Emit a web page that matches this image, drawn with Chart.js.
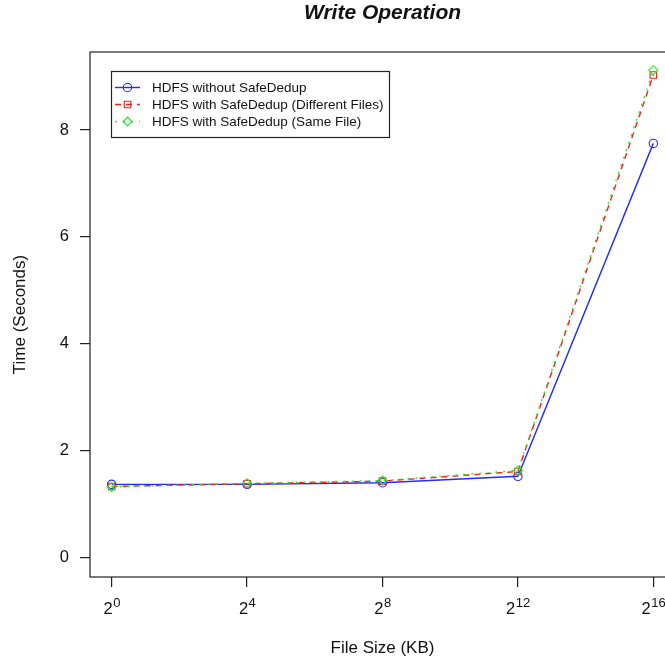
<!DOCTYPE html>
<html>
<head>
<meta charset="utf-8">
<title>Write Operation</title>
<script src="https://cdn.jsdelivr.net/npm/chart.js@4/dist/chart.umd.min.js"></script>
<style>
  html, body { margin: 0; padding: 0; background: #fff; overflow: hidden; }
  #wrap { width: 665px; height: 661px; overflow: hidden; }
  canvas { display: block; }
</style>
</head>
<body>
<div id="wrap"><canvas id="writeChart" width="690" height="661"></canvas></div>
<script>
// File sizes are plotted by their base-2 exponent (KB)
const exponents = [0, 4, 8, 12, 16];
const yTicks = [0, 2, 4, 6, 8];

const seriesNames = [
  'HDFS without SafeDedup',
  'HDFS with SafeDedup (Different Files)',
  'HDFS with SafeDedup (Same File)'
];

// Write time in seconds
const withoutSafeDedup = [1.37, 1.37, 1.40, 1.52, 7.75];
const differentFiles = [1.33, 1.38, 1.43, 1.61, 9.03];
const sameFile = [1.32, 1.39, 1.44, 1.63, 9.12];

const FONT = '"Liberation Sans", Arial, Helvetica, sans-serif';
const INK = '#111';

const toPoints = values => exponents.map((e, i) => ({ x: e, y: values[i] }));

const seriesStyles = [
  { color: '#1f2cff', dash: [], pointStyle: 'circle', radius: 4.2 },
  { color: '#ff1a1a', dash: [6, 5], pointStyle: 'rect', radius: 4.6 },
  { color: '#22ee22', dash: [2, 6], pointStyle: 'rectRot', radius: 4.5 }
];

const seriesValues = [withoutSafeDedup, differentFiles, sameFile];

const datasets = seriesValues.map((values, i) => {
  const s = seriesStyles[i];
  return {
    label: seriesNames[i],
    data: toPoints(values),
    borderColor: s.color,
    borderWidth: 1.4,
    borderDash: s.dash,
    pointStyle: s.pointStyle,
    pointRadius: s.radius,
    pointBorderWidth: 1.1,
    pointBorderColor: s.color,
    pointBackgroundColor: 'rgba(0,0,0,0)',
    tension: 0,
    fill: false,
    order: seriesValues.length - i
  };
});

// Box around the plot, superscript x labels, title and boxed legend
const framePlugin = {
  id: 'frame',
  afterDraw(chart) {
    const { ctx, chartArea: a } = chart;
    const xScale = chart.scales.x;
    ctx.save();

    ctx.strokeStyle = '#222';
    ctx.lineWidth = 1.2;
    ctx.setLineDash([]);
    ctx.strokeRect(a.left, a.top, a.right - a.left, a.bottom - a.top);

    // 2^n tick labels
    ctx.fillStyle = INK;
    ctx.textBaseline = 'alphabetic';
    ctx.textAlign = 'left';
    exponents.forEach(e => {
      const x = xScale.getPixelForValue(e);
      ctx.font = '16.5px ' + FONT;
      const wb = ctx.measureText('2').width;
      ctx.font = '13px ' + FONT;
      const ws = ctx.measureText(String(e)).width;
      const start = x - (wb + ws) / 2;
      ctx.font = '16.5px ' + FONT;
      ctx.fillText('2', start, 614);
      ctx.font = '13px ' + FONT;
      ctx.fillText(String(e), start + wb + 0.5, 607);
    });

    // title, centred over the plot
    ctx.font = 'italic bold 21px ' + FONT;
    ctx.textAlign = 'center';
    ctx.textBaseline = 'alphabetic';
    ctx.fillText('Write Operation', (a.left + a.right) / 2, 18.5);

    // legend
    const lx = 111.5, ly = 71.5, lw = 278, lh = 66;
    ctx.fillStyle = '#fff';
    ctx.fillRect(lx, ly, lw, lh);
    ctx.strokeStyle = '#222';
    ctx.lineWidth = 1.2;
    ctx.strokeRect(lx, ly, lw, lh);
    const rowY = [87.5, 104.5, 121.5];
    chart.data.datasets.forEach((ds, i) => {
      const y = rowY[i];
      const s = seriesStyles[i];
      ctx.strokeStyle = s.color;
      ctx.lineWidth = 1.4;
      ctx.setLineDash(s.dash);
      ctx.beginPath();
      ctx.moveTo(115, y);
      ctx.lineTo(140, y);
      ctx.stroke();
      ctx.setLineDash([]);
      ctx.lineWidth = 1.1;
      ctx.fillStyle = 'rgba(0,0,0,0)';
      Chart.helpers.drawPoint(ctx, {
        pointStyle: s.pointStyle, radius: s.radius, rotation: 0, borderWidth: 1.1
      }, 127.5, y);
      ctx.fillStyle = INK;
      ctx.font = '13.5px ' + FONT;
      ctx.textAlign = 'left';
      ctx.textBaseline = 'middle';
      ctx.fillText(seriesNames[i], 152, y + 0.5);
    });

    ctx.restore();
  }
};

new Chart(document.getElementById('writeChart'), {
  type: 'line',
  data: { datasets },
  plugins: [framePlugin],
  options: {
    responsive: false,
    animation: false,
    devicePixelRatio: 1,
    layout: { padding: { top: 52, right: 15, left: 0, bottom: 0 } },
    plugins: {
      legend: { display: false },
      title: { display: false },
      tooltip: { enabled: false }
    },
    scales: {
      x: {
        type: 'linear',
        min: -0.64,
        max: 16.64,
        afterFit(scale) { scale.height = 84; },
        afterBuildTicks(scale) { scale.ticks = exponents.map(v => ({ value: v })); },
        grid: {
          drawOnChartArea: false,
          drawTicks: true,
          tickLength: 10,
          color: '#222',
          lineWidth: 1.2
        },
        border: { display: false },
        ticks: { callback: () => '', autoSkip: false, maxRotation: 0 },
        title: {
          display: true,
          text: 'File Size (KB)',
          color: INK,
          font: { family: FONT, size: 17 },
          padding: { top: 0, bottom: 2 }
        }
      },
      y: {
        type: 'linear',
        min: -0.364,
        max: 9.46,
        afterFit(scale) { scale.width = 90; },
        afterBuildTicks(scale) { scale.ticks = yTicks.map(v => ({ value: v })); },
        grid: {
          drawOnChartArea: false,
          drawTicks: true,
          tickLength: 10,
          color: '#222',
          lineWidth: 1.2
        },
        border: { display: false },
        ticks: {
          color: INK,
          padding: 11,
          font: { family: FONT, size: 16.5 },
          callback: v => String(v)
        },
        title: {
          display: true,
          text: 'Time (Seconds)',
          color: INK,
          font: { family: FONT, size: 17 },
          padding: { top: 10, bottom: 0 }
        }
      }
    }
  }
});
</script>
</body>
</html>
